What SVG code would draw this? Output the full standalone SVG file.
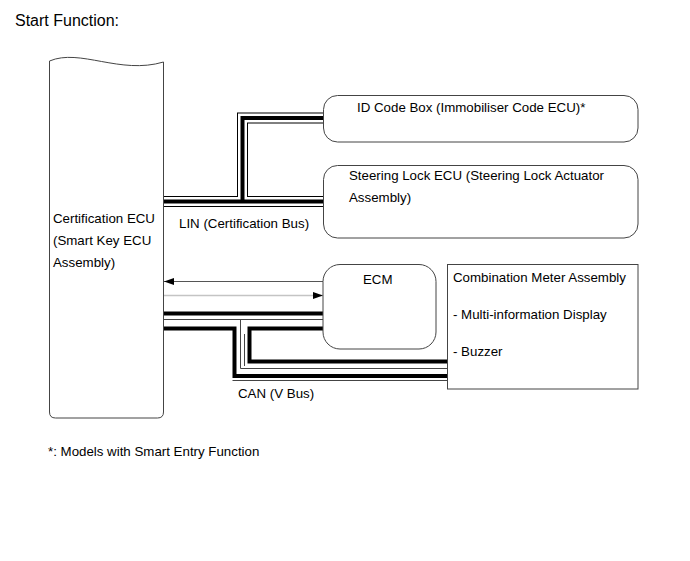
<svg xmlns="http://www.w3.org/2000/svg" width="690" height="561" viewBox="0 0 690 561">
<style>
text{font-family:"Liberation Sans",Arial,sans-serif;font-size:13.3px;fill:#000}
.title{font-size:16px}
.box{fill:#fff;stroke:#444;stroke-width:1}
.out{fill:none;stroke:#000;stroke-width:11;stroke-linejoin:miter}
.gap{fill:none;stroke:#fff;stroke-width:9;stroke-linejoin:miter}
.core{fill:none;stroke:#000;stroke-width:4;stroke-linejoin:miter}
.thin{fill:none;stroke:#444;stroke-width:1}
</style>
<defs>
<marker id="ah" markerUnits="userSpaceOnUse" markerWidth="10" markerHeight="7" refX="10" refY="3.5" orient="auto">
<path d="M0,0 L10,3.5 L0,7 z" fill="#000"/>
</marker>
</defs>
<rect width="690" height="561" fill="#fff"/>
<text class="title" x="15" y="26">Start Function:</text>

<g id="connectors">
<g id="lin">
<path class="out" d="M164,201.5 H323 M242.5,201.5 V118 H323"/>
<path class="gap" d="M164,201.5 H323 M242.5,201.5 V118 H323"/>
<path class="core" d="M164,201.5 H323 M242.5,201.5 V118 H323"/>
</g>
<g id="arrows">
<line x1="323" y1="281.5" x2="164" y2="281.5" stroke="#555" stroke-width="1" marker-end="url(#ah)"/>
<line x1="164" y1="295.5" x2="323" y2="295.5" stroke="#c4c4c4" stroke-width="1.5" marker-end="url(#ah)"/>
</g>
<g id="can">
<path class="thin" d="M164,319.5 H323 M240.5,319.5 V368.5 H447.5 M244.5,334 V366"/>
<path class="thin" d="M232.5,380.5 H447.5"/>
<path class="core" d="M164,313.5 H323 M164,328.5 H234.5 V376 H447.5 M323,328.5 H249.5 V361.5 H447.5"/>
</g>
</g>

<g id="cert-ecu">
<path class="box" d="M49.5,61 C80,48 120,75 163.5,62 V412 Q163.5,418 157.5,418 H55.5 Q49.5,418 49.5,412 Z"/>
<text x="53" y="223">Certification ECU</text>
<text x="53" y="245">(Smart Key ECU</text>
<text x="53" y="267">Assembly)</text>
</g>

<g id="id-code-box">
<rect class="box" x="323.5" y="95.5" width="314.5" height="46.5" rx="14"/>
<text x="357" y="112">ID Code Box (Immobiliser Code ECU)*</text>
</g>

<g id="steering-lock">
<rect class="box" x="323.5" y="165.5" width="314.5" height="72.5" rx="14"/>
<text x="349" y="180">Steering Lock ECU (Steering Lock Actuator</text>
<text x="349" y="202">Assembly)</text>
</g>

<g id="ecm">
<rect class="box" x="323" y="264.5" width="113" height="84.5" rx="17"/>
<text x="363" y="284">ECM</text>
</g>

<g id="combination-meter">
<rect class="box" x="447.5" y="264.5" width="190.5" height="124.5"/>
<text x="453" y="282">Combination Meter Assembly</text>
<text x="453" y="319">- Multi-information Display</text>
<text x="453" y="356">- Buzzer</text>
</g>

<text x="179" y="228">LIN (Certification Bus)</text>
<text x="238" y="398">CAN (V Bus)</text>
<text x="48" y="456">*: Models with Smart Entry Function</text>
</svg>
